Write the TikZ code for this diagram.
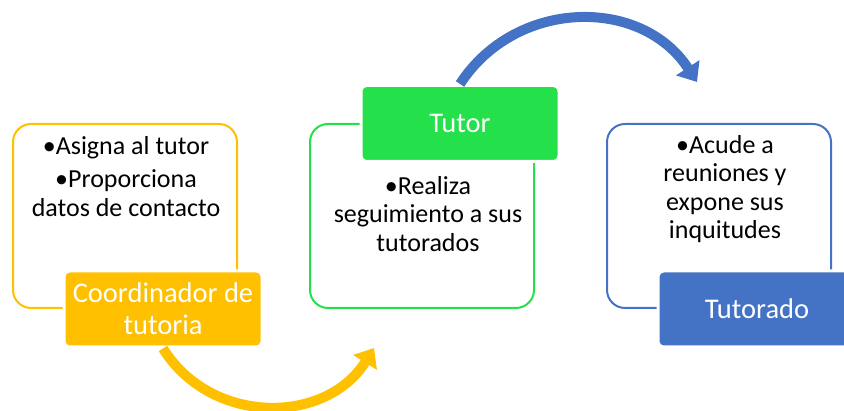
\documentclass[tikz,border=0pt]{standalone}
\usepackage{fontspec}
\setmainfont{Carlito}
\usetikzlibrary{arrows.meta}
\definecolor{amarillo}{HTML}{FFC000}
\definecolor{verde}{RGB}{36,224,74}
\definecolor{azul}{HTML}{4472C4}

\begin{document}
\begin{tikzpicture}[x=1pt, y=1pt,
	marco/.style={draw, line width=2pt, rounded corners=18pt, minimum width=224pt, minimum height=184pt, inner sep=0pt},
	etiqueta/.style={draw=white, line width=3pt, rounded corners=6pt, minimum width=198pt, minimum height=76pt, inner sep=0pt, text=white, align=center, font=\fontsize{28.5}{32}\selectfont},
	lista/.style={anchor=north, align=center, inner sep=0pt, font=\fontsize{26}{28.5}\selectfont},
	flecha/.style={line width=10pt, -{Triangle[length=17pt, width=27pt]}}]
			\useasboundingbox (0,0) rectangle (844,411);
			
			\node[marco, draw=amarillo] (coordmarco) at (125,195){};
			\node[marco, draw=verde] (tutormarco) at (422,195){};
			\node[marco, draw=azul] (tutoradomarco) at (719,195){};
			
			\node[lista] (coordlista) at (126,275){•Asigna al tutor\\[5pt]•Proporciona\\datos de contacto};
			\node[lista] (tutorlista) at (428,235){•Realiza\\seguimiento a sus\\tutorados};
			\node[lista] (tutoradolista) at (725,276){•Acude a\\reuniones y\\expone sus\\inquitudes};
			
			\node[etiqueta, fill=amarillo] (coord) at (163,102){Coordinador de\\tutoria};
			\node[etiqueta, fill=verde] (tutor) at (460,287.5){Tutor};
			\node[etiqueta, fill=azul] (tutorado) at (757,102){Tutorado};
			
			\coordinate (tutoradotip) at (697,329);
			\coordinate (tutortip) at (374,63);
			
			\draw[flecha, azul] (tutor.north) to[out=57, in=123, looseness=1.1] (tutoradotip);
			\draw[flecha, amarillo] (coord.south) to[out=-58, in=-122, looseness=1.1] (tutortip);
			\end{tikzpicture}
\end{document}
